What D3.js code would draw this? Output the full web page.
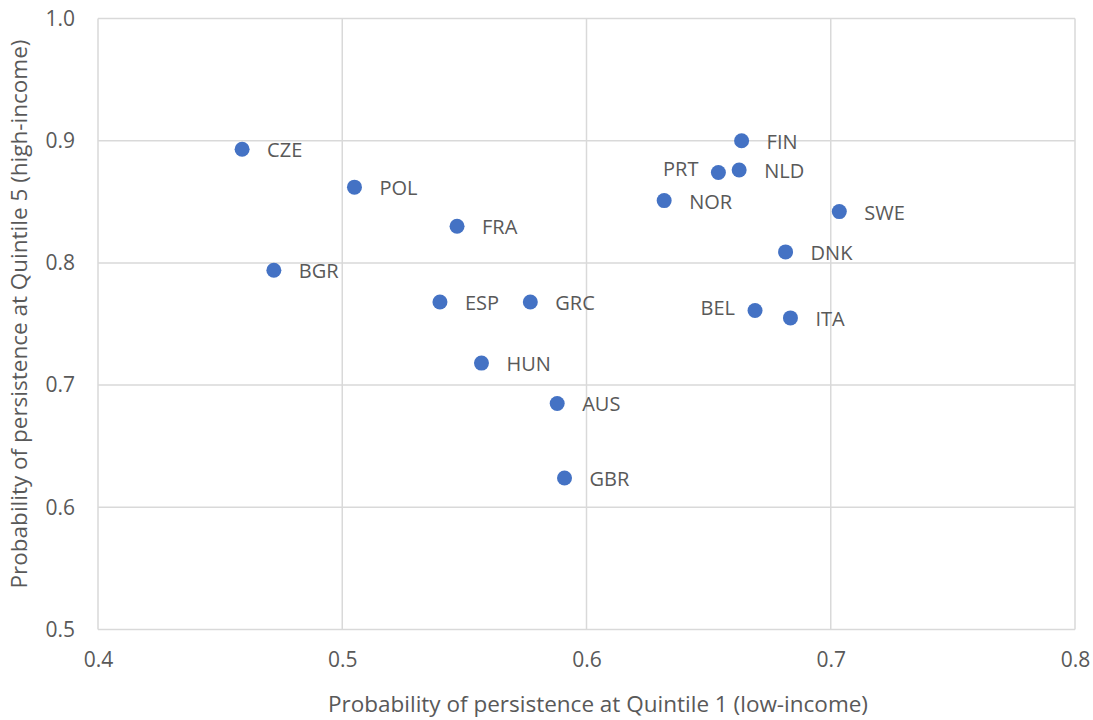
<!DOCTYPE html>
<html>
<head>
<meta charset="utf-8">
<script src="https://cdn.jsdelivr.net/npm/d3@7"></script>
<style>
  html, body { margin: 0; padding: 0; background: #fff; }
  svg { display: block; }
  text { font-family: "Open Sans", "Noto Sans", sans-serif; fill: #595959; }
</style>
</head>
<body>
<svg id="chart" width="1093" height="720"></svg>
<script>
const countries = ["CZE","POL","FRA","BGR","ESP","GRC","HUN","AUS","GBR","FIN","PRT","NLD","NOR","SWE","DNK","BEL","ITA"];
const quintile1 = [0.459,0.505,0.547,0.472,0.540,0.577,0.557,0.588,0.591,0.6635,0.654,0.6625,0.6318,0.7035,0.6815,0.669,0.6835];
const quintile5 = [0.893,0.862,0.830,0.794,0.768,0.768,0.718,0.685,0.624,0.900,0.874,0.876,0.851,0.842,0.809,0.761,0.755];
const labelLeft = ["PRT","BEL"];
const xTicks = [0.4,0.5,0.6,0.7,0.8];
const yTicks = [0.5,0.6,0.7,0.8,0.9,1.0];
const xTitle = "Probability of persistence at Quintile 1 (low-income)";
const yTitle = "Probability of persistence at Quintile 5 (high-income)";

const svg = d3.select("#chart");
const m = {left: 98, right: 1075, top: 18.5, bottom: 629.5};
const x = d3.scaleLinear().domain([0.4, 0.8]).range([m.left, m.right]);
const y = d3.scaleLinear().domain([0.5, 1.0]).range([m.bottom, m.top]);

const grid = svg.append("g");
grid.selectAll("line.v").data(xTicks).join("line")
  .attr("x1", d => x(d)).attr("x2", d => x(d))
  .attr("y1", m.top).attr("y2", m.bottom)
  .attr("stroke", "#d9d9d9").attr("stroke-width", 1.5);
grid.selectAll("line.h").data(yTicks).join("line")
  .attr("x1", m.left).attr("x2", m.right)
  .attr("y1", d => y(d)).attr("y2", d => y(d))
  .attr("stroke", "#d9d9d9").attr("stroke-width", 1.5);

const xAxis = d3.axisBottom(x).tickValues(xTicks).tickFormat(d3.format(".1f")).tickSize(0).tickPadding(23);
const gx = svg.append("g").attr("transform", `translate(0,${m.bottom})`).call(xAxis);
gx.select(".domain").remove();
gx.selectAll("text").style("font-size", "21px").attr("fill", "#595959");

const yAxis = d3.axisLeft(y).tickValues(yTicks).tickFormat(d3.format(".1f")).tickSize(0).tickPadding(23);
const gy = svg.append("g").attr("transform", `translate(${m.left},0)`).call(yAxis);
gy.select(".domain").remove();
gy.selectAll("text").style("font-size", "21px").attr("fill", "#595959");

svg.append("text").attr("x", 598).attr("y", 712)
  .attr("text-anchor", "middle").style("font-size", "22.5px").text(xTitle);
svg.append("text").attr("transform", `translate(27,${314}) rotate(-90)`)
  .attr("text-anchor", "middle").style("font-size", "22.5px").text(yTitle);

const data = countries.map((c, i) => ({c, x: quintile1[i], y: quintile5[i]}));
svg.append("g").selectAll("circle").data(data).join("circle")
  .attr("cx", d => x(d.x)).attr("cy", d => y(d.y)).attr("r", 7.5)
  .attr("fill", "#4472c4");

svg.append("g").selectAll("text").data(data).join("text")
  .attr("x", d => labelLeft.includes(d.c) ? x(d.x) - 20 : x(d.x) + 25)
  .attr("y", d => y(d.y) + (labelLeft.includes(d.c) ? -3 : 1))
  .attr("dy", "0.35em")
  .attr("text-anchor", d => labelLeft.includes(d.c) ? "end" : "start")
  .style("font-size", "20px").attr("fill", "#404040")
  .text(d => d.c);
</script>
</body>
</html>
